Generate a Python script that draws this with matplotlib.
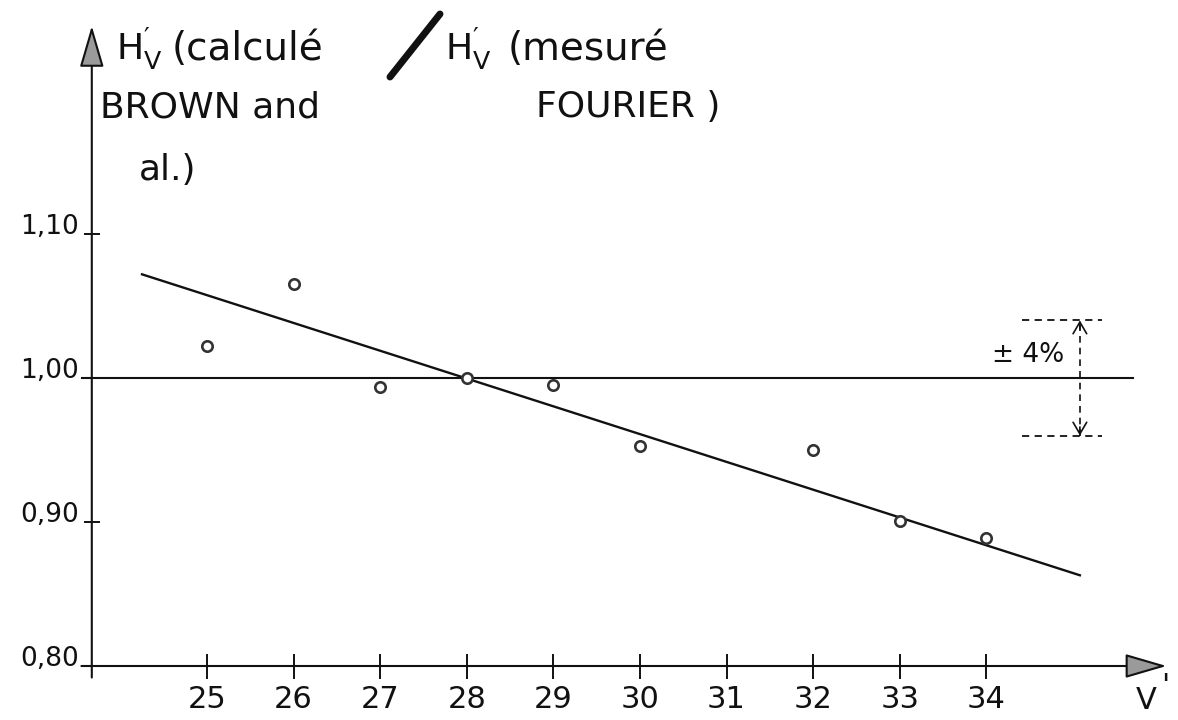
import matplotlib
matplotlib.use("Agg")
import matplotlib.pyplot as plt
from matplotlib.lines import Line2D

# ---------------- data ----------------
v_prime = [25, 26, 27, 28, 29, 30, 32, 33, 34]
ratio = [1.022, 1.065, 0.994, 1.000, 0.995, 0.953, 0.950, 0.901, 0.889]
fit_x = [24.25, 35.08]
fit_y = [1.072, 0.863]
x_ticks = [25, 26, 27, 28, 29, 30, 31, 32, 33, 34]
y_ticks = [0.80, 0.90, 1.00, 1.10]
y_tick_labels = ["0,80", "0,90", "1,00", "1,10"]
ref_level = 1.00
tolerance = 0.04
tol_label = "± 4%"

# ---------------- layout ----------------
W, H = 1178, 720
INK = "#111111"
plt.rcParams["font.family"] = ["DejaVu Sans"]

fig = plt.figure(figsize=(W / 100, H / 100), dpi=100)
ax = fig.add_axes([0, 0, 1, 1])
ax.set_xlim(22.610, 36.213)
ax.set_ylim(0.7625, 1.2625)
ax.patch.set_visible(False)

x_origin = 23.67
y_origin = 0.80
for s in ax.spines.values():
    s.set_visible(False)
ax.spines["left"].set_position(("data", x_origin))
ax.spines["bottom"].set_position(("data", y_origin))
ax.xaxis.set_ticks_position("bottom")
ax.yaxis.set_ticks_position("left")

ax.set_xticks(x_ticks)
ax.set_xticklabels([str(t) for t in x_ticks], fontsize=22, color=INK)
ax.set_yticks(y_ticks)
ax.set_yticklabels(y_tick_labels, fontsize=19, color=INK)
for lbl in ax.get_yticklabels():
    lbl.set_va("baseline")
ax.tick_params(axis="x", direction="inout", length=18, width=1.4, pad=5, color=INK)
ax.tick_params(axis="y", direction="inout", length=12, width=1.4, pad=3, color=INK)

# axes with arrow heads
head = "-|>,head_length=1.3,head_width=0.38"
ax.annotate("", xy=(36.08, y_origin), xytext=(23.55, y_origin),
            arrowprops=dict(arrowstyle=head, mutation_scale=20, lw=1.5,
                            ec=INK, fc="#9a9a9a", shrinkA=0, shrinkB=0))
ax.annotate("", xy=(x_origin, 1.2445), xytext=(x_origin, 0.792),
            arrowprops=dict(arrowstyle=head, mutation_scale=20, lw=1.5,
                            ec=INK, fc="#9a9a9a", shrinkA=0, shrinkB=0))

# reference line at 1.00
ax.plot([23.56, 35.69], [ref_level, ref_level], color=INK, lw=1.5)

# fitted line
ax.plot(fit_x, fit_y, color=INK, lw=1.7)

# measured points
ax.plot(v_prime, ratio, "o", ms=7.5, mfc="white", mec="#333333", mew=1.9, zorder=5)

# +/- 4 % band indication
xb = 35.08
ax.plot([34.41, 35.33], [ref_level + tolerance] * 2, color=INK, lw=1.3, ls=(0, (4, 3)))
ax.plot([34.41, 35.33], [ref_level - tolerance] * 2, color=INK, lw=1.3, ls=(0, (4, 3)))
ax.plot([xb, xb], [ref_level - tolerance, ref_level + tolerance], color=INK, lw=1.2, ls=(0, (4, 3)))
for yy, dy in [(ref_level + tolerance, -0.006), (ref_level - tolerance, 0.006)]:
    ax.annotate("", xy=(xb, yy), xytext=(xb, yy + dy),
                arrowprops=dict(arrowstyle="->,head_length=0.6,head_width=0.35",
                                mutation_scale=14, lw=1.2, color=INK,
                                shrinkA=0, shrinkB=0))
ax.text(34.06, 1.016, tol_label, fontsize=19, color=INK, ha="left", va="center")

# x-axis label V'
ax.text(35.72, 0.776, "V", fontsize=22, color=INK, ha="left", va="center")
ax.text(36.02, 0.786, "'", fontsize=22, color=INK, ha="left", va="center")

# ---------------- y-axis title ----------------
def fx(px):
    return px / W

def fy(py):
    return 1 - py / H

tfs = 26
lfs = 28
hv = r"$\mathregular{H^{\prime}_{V}}$"
fig.text(fx(116), fy(60), hv, fontsize=tfs, color=INK, va="baseline")
fig.text(fx(172), fy(60), "(calculé", fontsize=lfs, color=INK, va="baseline")
fig.add_artist(Line2D([fx(390), fx(440)], [fy(77), fy(14)], lw=5, color=INK,
                      transform=fig.transFigure, solid_capstyle="round"))
fig.text(fx(445), fy(60), hv, fontsize=tfs, color=INK, va="baseline")
fig.text(fx(508), fy(60), "(mesuré", fontsize=lfs, color=INK, va="baseline")
fig.text(fx(100), fy(117), "BROWN and", fontsize=tfs, color=INK, va="baseline")
fig.text(fx(536), fy(117), "FOURIER )", fontsize=tfs, color=INK, va="baseline")
fig.text(fx(139), fy(180), "al.)", fontsize=tfs, color=INK, va="baseline")

fig.savefig("out.png", dpi=100)
